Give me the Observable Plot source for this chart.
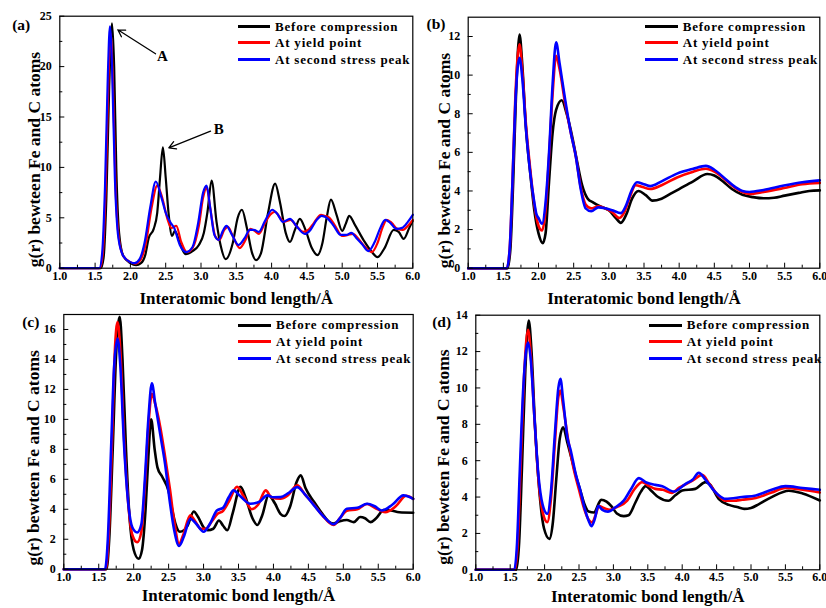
<!DOCTYPE html>
<html><head><meta charset="utf-8">
<script src="https://cdn.jsdelivr.net/npm/d3@7"></script>
<script src="https://cdn.jsdelivr.net/npm/@observablehq/plot@0.6"></script>
<style>
body{margin:0;background:#fff;}
#wrap{position:relative;width:826px;height:608px;overflow:hidden;background:#fff;font-family:"Liberation Serif","Times New Roman",serif;font-weight:bold;color:#000;}
.panel{position:absolute;width:413px;height:304px;}
.panel svg{overflow:visible;max-width:none;}
.leg{position:absolute;font-size:13px;letter-spacing:0.8px;white-space:nowrap;line-height:13px;}
.legline{position:absolute;height:3px;}
g[aria-label="xlabel"] text{letter-spacing:0.2px;}
g[aria-label="ylabel"] text{letter-spacing:0.3px;}
</style></head><body><div id="wrap"></div>
<script>
const seriesNames = ["Before compression","At yield point","At second stress peak"];
const seriesColors = ["#000000","#ff0000","#0000ff"];
const xMajor = [1.0,1.5,2.0,2.5,3.0,3.5,4.0,4.5,5.0,5.5,6.0];
const xMinor = [1.25,1.75,2.25,2.75,3.25,3.75,4.25,4.75,5.25,5.75];
const xLabel = "Interatomic bond length/Å";
const yLabel = "g(r) bewteen Fe and C atoms";

// Panel (a)
const aYMajor = [0,5,10,15,20,25];
const aYMinor = [2.5,7.5,12.5,17.5,22.5];
const aBefore = [[1.0,0],[1.58,0],[1.62,1.0],[1.66,7],[1.70,18],[1.74,24.3],[1.77,20],[1.80,10],[1.84,3.5],[1.90,1.2],[2.0,0.5],[2.08,0.3],[2.15,0.5],[2.21,1.3],[2.26,3.0],[2.33,3.9],[2.38,5.5],[2.42,9],[2.46,12.0],[2.50,9],[2.54,5.5],[2.59,3.2],[2.63,3.7],[2.70,2.5],[2.78,1.4],[2.88,1.7],[2.97,2.3],[3.04,3.5],[3.09,5.5],[3.15,8.7],[3.22,4.6],[3.28,2.2],[3.35,0.9],[3.45,2.5],[3.52,5.0],[3.58,5.8],[3.65,4.0],[3.72,1.6],[3.78,0.8],[3.85,1.5],[3.95,5.5],[4.05,8.4],[4.12,6.5],[4.20,3.5],[4.26,2.6],[4.33,3.8],[4.40,4.9],[4.48,3.8],[4.57,2.0],[4.65,1.3],[4.72,2.5],[4.78,5.0],[4.84,6.8],[4.92,5.3],[5.0,3.7],[5.05,4.4],[5.10,5.2],[5.18,4.3],[5.31,2.7],[5.42,1.6],[5.50,1.1],[5.60,2.0],[5.73,3.8],[5.80,3.6],[5.87,2.9],[5.95,4.0],[6.0,4.7]];
const aYield = [[1.0,0],[1.57,0],[1.61,1.5],[1.65,8],[1.69,19],[1.72,23.3],[1.75,19],[1.79,8],[1.84,2.8],[1.90,1.2],[2.0,0.6],[2.07,0.45],[2.15,0.9],[2.22,2.5],[2.30,6.0],[2.38,8.2],[2.45,7.0],[2.52,5.0],[2.58,4.0],[2.65,4.2],[2.72,2.6],[2.80,1.6],[2.88,2.0],[2.97,4.2],[3.03,7.0],[3.08,8.0],[3.13,6.0],[3.20,3.2],[3.26,2.8],[3.33,3.8],[3.38,4.1],[3.45,3.2],[3.55,2.0],[3.63,2.8],[3.70,3.9],[3.76,3.7],[3.82,3.4],[3.90,4.4],[3.98,5.3],[4.05,5.6],[4.12,5.0],[4.18,4.6],[4.27,4.8],[4.35,4.2],[4.45,3.6],[4.52,3.8],[4.60,4.5],[4.70,5.3],[4.75,5.2],[4.82,5.0],[4.90,4.2],[5.0,3.2],[5.08,3.3],[5.15,3.4],[5.22,3.0],[5.30,2.3],[5.42,1.6],[5.50,2.5],[5.57,4.0],[5.63,4.8],[5.70,4.5],[5.78,3.9],[5.86,3.8],[5.93,4.2],[6.0,4.8]];
const aSecond = [[1.0,0],[1.56,0],[1.60,1.5],[1.64,8],[1.68,19],[1.71,24.0],[1.74,20],[1.78,9],[1.83,3],[1.90,1.2],[2.0,0.6],[2.06,0.5],[2.13,0.9],[2.20,2.5],[2.28,6.0],[2.36,8.6],[2.44,7.0],[2.50,5.5],[2.57,4.5],[2.62,4.0],[2.70,2.3],[2.79,1.6],[2.88,2.1],[2.96,4.5],[3.03,7.5],[3.08,8.2],[3.13,6.0],[3.19,3.3],[3.25,2.8],[3.31,3.7],[3.36,4.2],[3.44,3.3],[3.53,2.3],[3.62,3.0],[3.69,3.8],[3.75,3.8],[3.82,3.6],[3.90,4.6],[4.01,5.8],[4.08,5.4],[4.16,4.6],[4.26,4.9],[4.35,4.2],[4.47,3.4],[4.55,3.8],[4.64,4.8],[4.71,5.2],[4.80,4.9],[4.88,4.2],[4.98,3.3],[5.06,3.3],[5.13,3.5],[5.20,3.0],[5.28,2.4],[5.37,1.7],[5.46,2.6],[5.54,4.0],[5.61,4.8],[5.68,4.5],[5.77,3.9],[5.85,4.0],[5.93,4.6],[6.0,5.3]];
const aNotes = [
  {label:"A", tx:2.455, ty:21.0, x1:2.356, y1:21.27, x2:1.822, y2:23.65},
  {label:"B", tx:3.25, ty:13.8, x1:3.135, y1:13.59, x2:2.544, y2:11.94}
];

// Panel (b)
const bYMajor = [0,2,4,6,8,10,12];
const bYMinor = [1,3,5,7,9,11];
const bBefore = [[1.0,0],[1.56,0],[1.60,1.0],[1.64,4.5],[1.68,9.0],[1.73,12.1],[1.77,10.5],[1.82,7.3],[1.88,5.0],[1.94,3.0],[2.0,1.8],[2.06,1.3],[2.10,1.8],[2.15,4.5],[2.20,7.0],[2.25,8.2],[2.33,8.7],[2.40,8.0],[2.48,6.8],[2.55,5.5],[2.62,4.3],[2.70,3.6],[2.78,3.4],[2.88,3.2],[3.0,3.0],[3.10,2.6],[3.17,2.35],[3.25,2.8],[3.33,3.6],[3.42,4.0],[3.52,3.8],[3.62,3.5],[3.75,3.6],[3.90,3.9],[4.0,4.1],[4.2,4.5],[4.4,4.88],[4.5,4.8],[4.62,4.5],[4.75,4.1],[4.9,3.8],[5.05,3.68],[5.2,3.62],[5.35,3.65],[5.5,3.76],[5.7,3.9],[5.85,4.0],[6.0,4.03]];
const bYield = [[1.0,0],[1.55,0],[1.59,1.0],[1.63,4.5],[1.67,8.8],[1.73,11.6],[1.77,10.2],[1.82,7.5],[1.88,5.2],[1.94,3.3],[2.0,2.2],[2.05,1.95],[2.10,3.0],[2.15,5.8],[2.20,9.0],[2.25,11.0],[2.30,10.3],[2.38,8.5],[2.46,7.0],[2.53,5.8],[2.60,4.2],[2.67,3.3],[2.75,3.1],[2.85,3.2],[2.95,3.1],[3.05,2.9],[3.15,2.6],[3.22,2.9],[3.30,3.7],[3.38,4.3],[3.48,4.2],[3.59,4.1],[3.75,4.3],[3.97,4.7],[4.2,5.0],[4.38,5.15],[4.5,5.0],[4.65,4.6],[4.8,4.15],[4.9,3.95],[5.0,3.85],[5.2,3.95],[5.49,4.15],[5.75,4.35],[6.0,4.42]];
const bSecond = [[1.0,0],[1.55,0],[1.59,1.0],[1.63,4.5],[1.67,8.5],[1.73,10.9],[1.77,9.8],[1.82,7.3],[1.88,5.0],[1.94,3.4],[1.97,2.8],[2.0,2.6],[2.05,2.3],[2.10,3.4],[2.15,6.0],[2.20,9.5],[2.25,11.7],[2.30,10.6],[2.38,8.7],[2.46,7.0],[2.53,5.8],[2.60,4.1],[2.67,3.1],[2.75,2.95],[2.85,3.15],[2.95,3.1],[3.05,3.0],[3.17,2.85],[3.25,3.3],[3.32,4.0],[3.40,4.45],[3.50,4.35],[3.59,4.25],[3.75,4.5],[3.97,4.9],[4.2,5.15],[4.38,5.3],[4.5,5.1],[4.65,4.65],[4.8,4.2],[4.9,4.0],[5.0,3.95],[5.2,4.05],[5.49,4.28],[5.75,4.45],[6.0,4.55]];

// Panel (c)
const cYMajor = [0,2,4,6,8,10,12,14,16];
const cYMinor = [1,3,5,7,9,11,13,15];
const cBefore = [[1.0,0],[1.61,0],[1.65,2],[1.70,8],[1.75,14.5],[1.80,16.85],[1.84,14],[1.89,8],[1.94,3.5],[2.0,1.3],[2.07,0.7],[2.12,1.3],[2.17,4.0],[2.21,7.5],[2.25,10.0],[2.30,8.0],[2.34,6.8],[2.41,6.15],[2.50,5.2],[2.55,4.0],[2.60,3.0],[2.66,2.5],[2.72,2.6],[2.77,2.9],[2.86,3.85],[2.92,3.5],[3.0,2.8],[3.06,2.6],[3.14,2.7],[3.22,3.25],[3.28,2.9],[3.34,2.6],[3.42,3.8],[3.53,5.5],[3.60,4.8],[3.70,3.4],[3.77,2.95],[3.84,3.6],[3.93,4.93],[4.02,4.4],[4.10,3.7],[4.16,3.55],[4.24,4.2],[4.33,5.8],[4.39,6.26],[4.46,5.4],[4.58,4.5],[4.70,3.7],[4.80,3.15],[4.86,3.05],[4.95,3.2],[5.05,3.28],[5.15,3.14],[5.24,3.48],[5.31,3.4],[5.39,3.14],[5.47,3.4],[5.58,3.95],[5.68,3.92],[5.80,3.8],[6.0,3.77]];
const cYield = [[1.0,0],[1.60,0],[1.64,2],[1.69,8.5],[1.73,14.5],[1.77,16.5],[1.81,14.5],[1.86,9],[1.92,4.5],[1.98,2.3],[2.05,1.8],[2.11,2.5],[2.16,5.5],[2.21,9.5],[2.26,11.7],[2.31,11.0],[2.38,9.5],[2.45,7.5],[2.52,5.3],[2.58,3.2],[2.65,1.7],[2.71,2.3],[2.81,3.6],[2.88,3.2],[2.96,2.7],[3.03,2.7],[3.12,3.2],[3.20,3.7],[3.28,3.9],[3.36,4.5],[3.48,5.5],[3.57,4.9],[3.69,4.0],[3.78,4.3],[3.89,5.26],[3.97,4.8],[4.1,4.7],[4.2,4.9],[4.34,5.6],[4.45,5.0],[4.58,4.3],[4.70,3.6],[4.86,2.95],[4.95,3.4],[5.05,3.9],[5.2,4.0],[5.34,4.35],[5.45,4.1],[5.6,3.8],[5.75,4.2],[5.9,4.9],[6.0,4.7]];
const cSecond = [[1.0,0],[1.59,0],[1.63,2],[1.68,8.5],[1.72,13.5],[1.77,15.4],[1.81,13.5],[1.86,8.5],[1.92,4.5],[1.98,2.8],[2.05,2.45],[2.11,3.0],[2.16,6.0],[2.21,10.0],[2.26,12.4],[2.31,11.0],[2.38,9.0],[2.45,7.0],[2.52,4.4],[2.58,2.6],[2.65,1.55],[2.72,2.2],[2.81,3.37],[2.90,3.0],[3.0,2.5],[3.1,3.1],[3.19,3.92],[3.28,4.1],[3.36,4.8],[3.43,5.26],[3.52,4.9],[3.67,4.37],[3.80,4.5],[3.91,4.93],[4.0,4.8],[4.1,4.81],[4.22,5.1],[4.34,5.48],[4.45,5.0],[4.58,4.26],[4.72,3.5],[4.86,3.0],[4.95,3.4],[5.05,4.04],[5.2,4.1],[5.34,4.37],[5.45,4.2],[5.55,3.92],[5.7,4.3],[5.86,4.93],[6.0,4.7]];

// Panel (d)
const dYMajor = [0,2,4,6,8,10,12,14];
const dYMinor = [1,3,5,7,9,11,13];
const dBefore = [[1.0,0],[1.59,0],[1.63,1.5],[1.67,5.5],[1.72,11],[1.77,13.7],[1.81,12],[1.86,8],[1.92,4.5],[1.99,2.3],[2.07,1.7],[2.12,2.6],[2.17,5.0],[2.22,7.2],[2.27,7.84],[2.33,7.0],[2.40,6.0],[2.46,5.1],[2.52,4.36],[2.58,3.6],[2.64,3.2],[2.72,3.15],[2.78,3.6],[2.82,3.85],[2.90,3.75],[2.97,3.5],[3.05,3.1],[3.15,2.95],[3.22,3.0],[3.32,3.7],[3.40,4.3],[3.47,4.6],[3.55,4.35],[3.65,4.0],[3.80,3.8],[3.90,4.1],[4.0,4.36],[4.19,4.45],[4.34,4.82],[4.40,4.7],[4.53,3.9],[4.68,3.57],[4.80,3.45],[4.90,3.35],[5.0,3.4],[5.11,3.6],[5.3,4.0],[5.55,4.35],[5.75,4.2],[6.0,3.81]];
const dYield = [[1.0,0],[1.57,0],[1.61,1.5],[1.65,5.5],[1.70,10.5],[1.76,13.2],[1.80,11.8],[1.85,8.5],[1.91,5.0],[1.97,3.2],[2.04,2.62],[2.09,3.8],[2.15,7.0],[2.20,9.5],[2.23,9.86],[2.27,9.0],[2.34,7.2],[2.42,5.6],[2.50,4.4],[2.58,3.3],[2.64,2.75],[2.69,2.6],[2.74,3.0],[2.79,3.5],[2.86,3.4],[2.95,3.3],[3.05,3.45],[3.2,3.8],[3.30,4.4],[3.42,4.82],[3.52,4.6],[3.61,4.45],[3.72,4.4],[3.85,4.23],[3.95,4.5],[4.05,4.7],[4.15,4.9],[4.29,5.22],[4.40,4.7],[4.52,4.1],[4.63,3.8],[4.75,3.8],[4.87,3.85],[5.07,3.95],[5.3,4.25],[5.5,4.5],[5.75,4.4],[6.0,4.25]];
const dSecond = [[1.0,0],[1.56,0],[1.60,1.5],[1.64,5.5],[1.69,10],[1.76,12.5],[1.80,11.5],[1.85,8.5],[1.91,5.2],[1.97,3.6],[2.04,3.08],[2.09,4.2],[2.15,7.5],[2.20,10.0],[2.23,10.5],[2.27,9.3],[2.33,7.3],[2.38,6.56],[2.45,5.3],[2.52,4.36],[2.58,3.4],[2.64,2.7],[2.68,2.4],[2.73,2.8],[2.78,3.5],[2.84,3.3],[2.92,3.2],[3.03,3.44],[3.15,3.8],[3.25,4.4],[3.37,5.04],[3.48,4.8],[3.61,4.67],[3.71,4.6],[3.88,4.3],[4.05,4.73],[4.15,4.95],[4.24,5.33],[4.34,4.95],[4.44,4.45],[4.53,4.1],[4.63,3.9],[4.87,4.0],[5.07,4.09],[5.3,4.4],[5.5,4.6],[5.75,4.5],[6.0,4.4]];

const panels = [
  {tag:"(a)", left:0, top:0, series:[aBefore,aYield,aSecond], yMax:25, yMajor:aYMajor, yMinor:aYMinor,
   ml:59.3, mr:0.7, mt:15.7, mb:36.3, sw:2.2, xlDy:30.5, ylDx:-25.8, ylDy:17.3, tagDx:-47.6, tagDy:9.3,
   legLine:[237.7,270], legText:275, legRows:[26.7,42.7,59.3], notes:aNotes},
  {tag:"(b)", left:413, top:0, series:[bBefore,bYield,bSecond], yMax:13, yMajor:bYMajor, yMinor:bYMinor,
   ml:54.7, mr:6.7, mt:16.7, mb:36.3, sw:2.6, xlDy:30.5, ylDx:-24.2, ylDy:17.8, tagDx:-41.7, tagDy:7.3,
   legLine:[645,678.3], legText:682.7, legRows:[26.7,42.7,59.3]},
  {tag:"(c)", left:0, top:304, series:[cBefore,cYield,cSecond], yMax:17, yMajor:cYMajor, yMinor:cYMinor,
   ml:63.3, mr:0.3, mt:10, mb:39.3, sw:2.6, xlDy:26.5, ylDx:-30, ylDy:16, tagDx:-41.6, tagDy:8,
   legLine:[238.3,270.7], legText:276, legRows:[325,341.7,358.3]},
  {tag:"(d)", left:413, top:304, series:[dBefore,dYield,dSecond], yMax:14, yMajor:dYMajor, yMinor:dYMinor,
   ml:62.3, mr:6.7, mt:10.7, mb:38.7, sw:2.6, xlDy:26.5, ylDx:-32, ylDy:14.5, tagDx:-43.6, tagDy:7.3,
   legLine:[649.3,681.7], legText:686.7, legRows:[325,341.7,358.3]}
];

const wrap = document.getElementById("wrap");
for (const p of panels) {
  const rows = p.series.flatMap((pts, i) => pts.map(([r, g]) => ({name: seriesNames[i], r, g})));
  const marks = [
    Plot.line(rows, {x: "r", y: "g", stroke: "name", strokeWidth: p.sw, curve: "monotone-x", strokeLinejoin: "round", strokeLinecap: "round"}),
    Plot.frame({stroke: "#000", strokeWidth: 1.2}),
    Plot.axisX({ticks: xMajor, tickSize: 0, tickPadding: 3, tickFormat: d => d.toFixed(1), label: null}),
    Plot.axisX({ticks: xMajor, tickSize: 5, dy: -5, fill: "none", label: null}),
    Plot.axisX({ticks: xMinor, tickSize: 3, dy: -3, fill: "none", label: null}),
    Plot.axisY({ticks: p.yMajor, tickSize: 0, tickPadding: 8, tickFormat: d => String(d), label: null}),
    Plot.axisY({ticks: p.yMajor, tickSize: 5, dx: 5, fill: "none", label: null}),
    Plot.axisY({ticks: p.yMinor, tickSize: 3, dx: 3, fill: "none", label: null}),
    Plot.text([xLabel], {text: d => d, frameAnchor: "bottom", textAnchor: "middle", lineAnchor: "middle", dy: p.xlDy, fontSize: 17, ariaLabel: "xlabel"}),
    Plot.text([yLabel], {text: d => d, frameAnchor: "left", textAnchor: "middle", lineAnchor: "middle", rotate: -90, dx: p.ylDx, dy: p.ylDy, fontSize: 17.5, ariaLabel: "ylabel"}),
    Plot.text([p.tag], {text: d => d, frameAnchor: "top-left", textAnchor: "start", lineAnchor: "middle", dx: p.tagDx, dy: p.tagDy, fontSize: 15.5})
  ];
  if (p.notes) {
    marks.push(Plot.arrow(p.notes, {x1: "x1", y1: "y1", x2: "x2", y2: "y2", stroke: "#000", strokeWidth: 1.3, headLength: 9}));
    marks.push(Plot.text(p.notes, {x: "tx", y: "ty", text: "label", fontSize: 15}));
  }
  const chart = Plot.plot({
    width: 413, height: 304,
    marginLeft: p.ml, marginRight: p.mr, marginTop: p.mt, marginBottom: p.mb,
    x: {domain: [1, 6]},
    y: {domain: [0, p.yMax]},
    color: {domain: seriesNames, range: seriesColors},
    style: {fontFamily: '"Liberation Serif", "Times New Roman", serif', fontWeight: "bold", fontSize: "12px", background: "transparent", overflow: "visible", color: "#000"},
    marks
  });
  const div = document.createElement("div");
  div.className = "panel";
  div.style.left = p.left + "px";
  div.style.top = p.top + "px";
  div.appendChild(chart);
  wrap.appendChild(div);

  // legend (page coordinates)
  seriesNames.forEach((name, i) => {
    const ln = document.createElement("div");
    ln.className = "legline";
    ln.style.left = p.legLine[0] + "px";
    ln.style.width = (p.legLine[1] - p.legLine[0]) + "px";
    ln.style.top = (p.legRows[i] - 1.5) + "px";
    ln.style.background = seriesColors[i];
    wrap.appendChild(ln);
    const tx = document.createElement("div");
    tx.className = "leg";
    tx.style.left = p.legText + "px";
    tx.style.top = (p.legRows[i] - 6.6) + "px";
    tx.textContent = name;
    wrap.appendChild(tx);
  });
}
</script>
</body></html>
